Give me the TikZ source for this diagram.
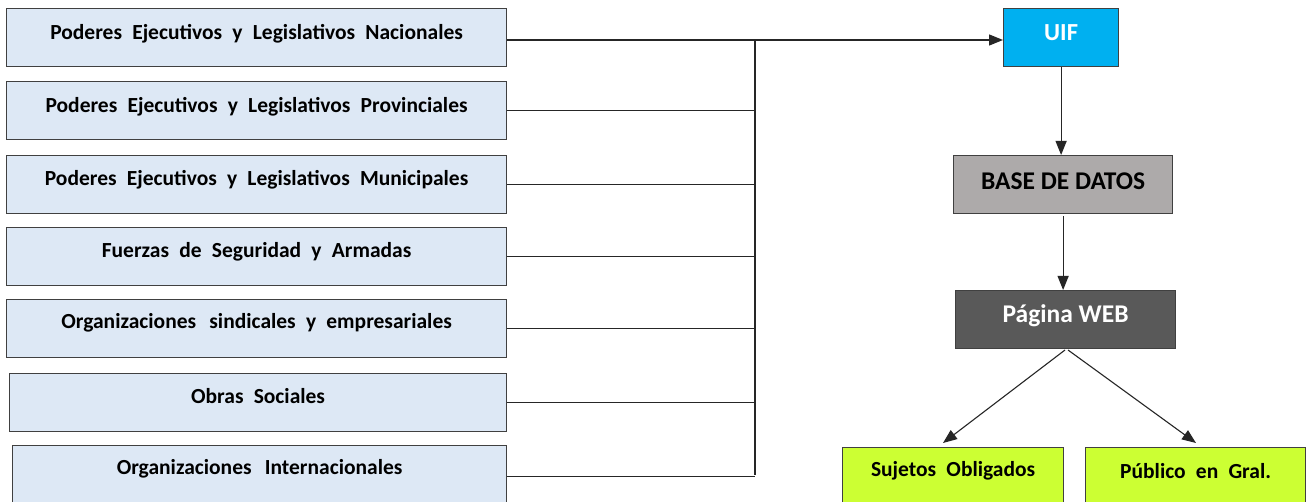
\documentclass[tikz,border=0pt]{standalone}
\usepackage{fontspec}
\setmainfont{Carlito}
\newfontfamily\wfont[WordSpace=2.1]{Carlito}
\usetikzlibrary{arrows.meta}
\definecolor{boxblue}{RGB}{221,232,245}
\definecolor{uifcyan}{RGB}{0,176,240}
\definecolor{dbgray}{RGB}{173,170,170}
\definecolor{webgray}{RGB}{89,89,89}
\definecolor{lime}{RGB}{204,255,51}
\definecolor{edge}{RGB}{64,64,64}
\begin{document}
\begin{tikzpicture}[x=1pt,y=-1pt,
  srcbox/.style={draw=edge, line width=1.2pt, fill=boxblue, anchor=north west, inner sep=0pt,
    minimum height=58pt},
  flowbox/.style={draw=edge, line width=1.2pt, anchor=north west, inner sep=0pt, minimum height=58pt},
  lbl/.style={anchor=center, font=\wfont\bfseries\fontsize{21.5}{24}\selectfont},
  big/.style={anchor=center, font=\bfseries\fontsize{25.5}{28}\selectfont},
  wire/.style={line width=1.1pt, draw=black!85},
  tip/.style={-{Triangle[length=14pt,width=11pt]}}
]
\clip (0,0) rectangle (1307,502);
\fill[white] (0,0) rectangle (1307,502);

% source boxes
\node[srcbox, minimum width=500pt, label={[lbl,yshift=-26pt]north:Poderes Ejecutivos y Legislativos Nacionales}] (b1) at (6,8) {};
\node[srcbox, minimum width=500pt, label={[lbl,yshift=-26pt]north:Poderes Ejecutivos y Legislativos Provinciales}] (b2) at (6,81) {};
\node[srcbox, minimum width=500pt, label={[lbl,yshift=-25pt]north:Poderes Ejecutivos y Legislativos Municipales}] (b3) at (6,155) {};
\node[srcbox, minimum width=500pt, label={[lbl,yshift=-25pt]north:Fuerzas de Seguridad y Armadas}] (b4) at (6,227) {};
\node[srcbox, minimum width=500pt, label={[lbl,yshift=-24pt]north:Organizaciones\hspace{3pt} sindicales y empresariales}] (b5) at (6,299) {};
\node[srcbox, minimum width=497pt, label={[lbl,yshift=-23pt]north:Obras Sociales}] (b6) at (9,373) {};
\node[srcbox, minimum width=494pt, minimum height=62pt, label={[lbl,yshift=-24pt]north:Organizaciones\hspace{3pt} Internacionales}] (b7) at (12,445) {};

% right column
\node[flowbox, fill=uifcyan, minimum width=115pt, label={[anchor=center,yshift=-25pt,text=white,font=\bfseries\fontsize{24.5}{27}\selectfont]north:UIF}] (uif) at (1003,8) {};
\node[flowbox, fill=dbgray, minimum width=219pt, label={[big,yshift=-26pt]north:BASE DE DATOS}] (db) at (953,155) {};
\node[flowbox, fill=webgray, minimum width=220pt, label={[big,yshift=-26pt,text=white]north:Página WEB}] (web) at (955,290) {};
\node[flowbox, fill=lime, minimum width=221pt, minimum height=62pt, label={[lbl,yshift=-24pt]north:Sujetos Obligados}] (so) at (842,447) {};
\node[flowbox, fill=lime, minimum width=220pt, minimum height=62pt, label={[lbl,yshift=-24pt]north:Público en Gral.}] (pub) at (1085,447) {};

% bus
\coordinate (bustop) at (755,40);
\coordinate (busbot) at (755,475);
\draw[wire] (bustop) -- (busbot);
\draw[wire] (b1.east |- bustop) -- (bustop);
\draw[wire, tip, line width=1.4pt] (bustop) -- (uif.west |- bustop);
\draw[wire] (b2.east) -- (b2.east -| bustop);
\draw[wire] (b3.east) -- (b3.east -| bustop);
\draw[wire] (b4.east) -- (b4.east -| bustop);
\draw[wire] (b5.east) -- (b5.east -| bustop);
\draw[wire] (b6.east) -- (b6.east -| bustop);
\draw[wire] (b7.east) -- (b7.east -| bustop);

% flow
\draw[wire, tip] (uif.south) -- (db.north -| uif.south);
\draw[wire, tip] ([yshift=-2pt]db.south) -- (web.north -| db.south);
\coordinate (wl) at (1065,350);
\coordinate (wr) at (1068,350);
\draw[wire, tip] (wl) -- (943,443);
\draw[wire, tip] (wr) -- (1196,443);
\end{tikzpicture}
\end{document}
